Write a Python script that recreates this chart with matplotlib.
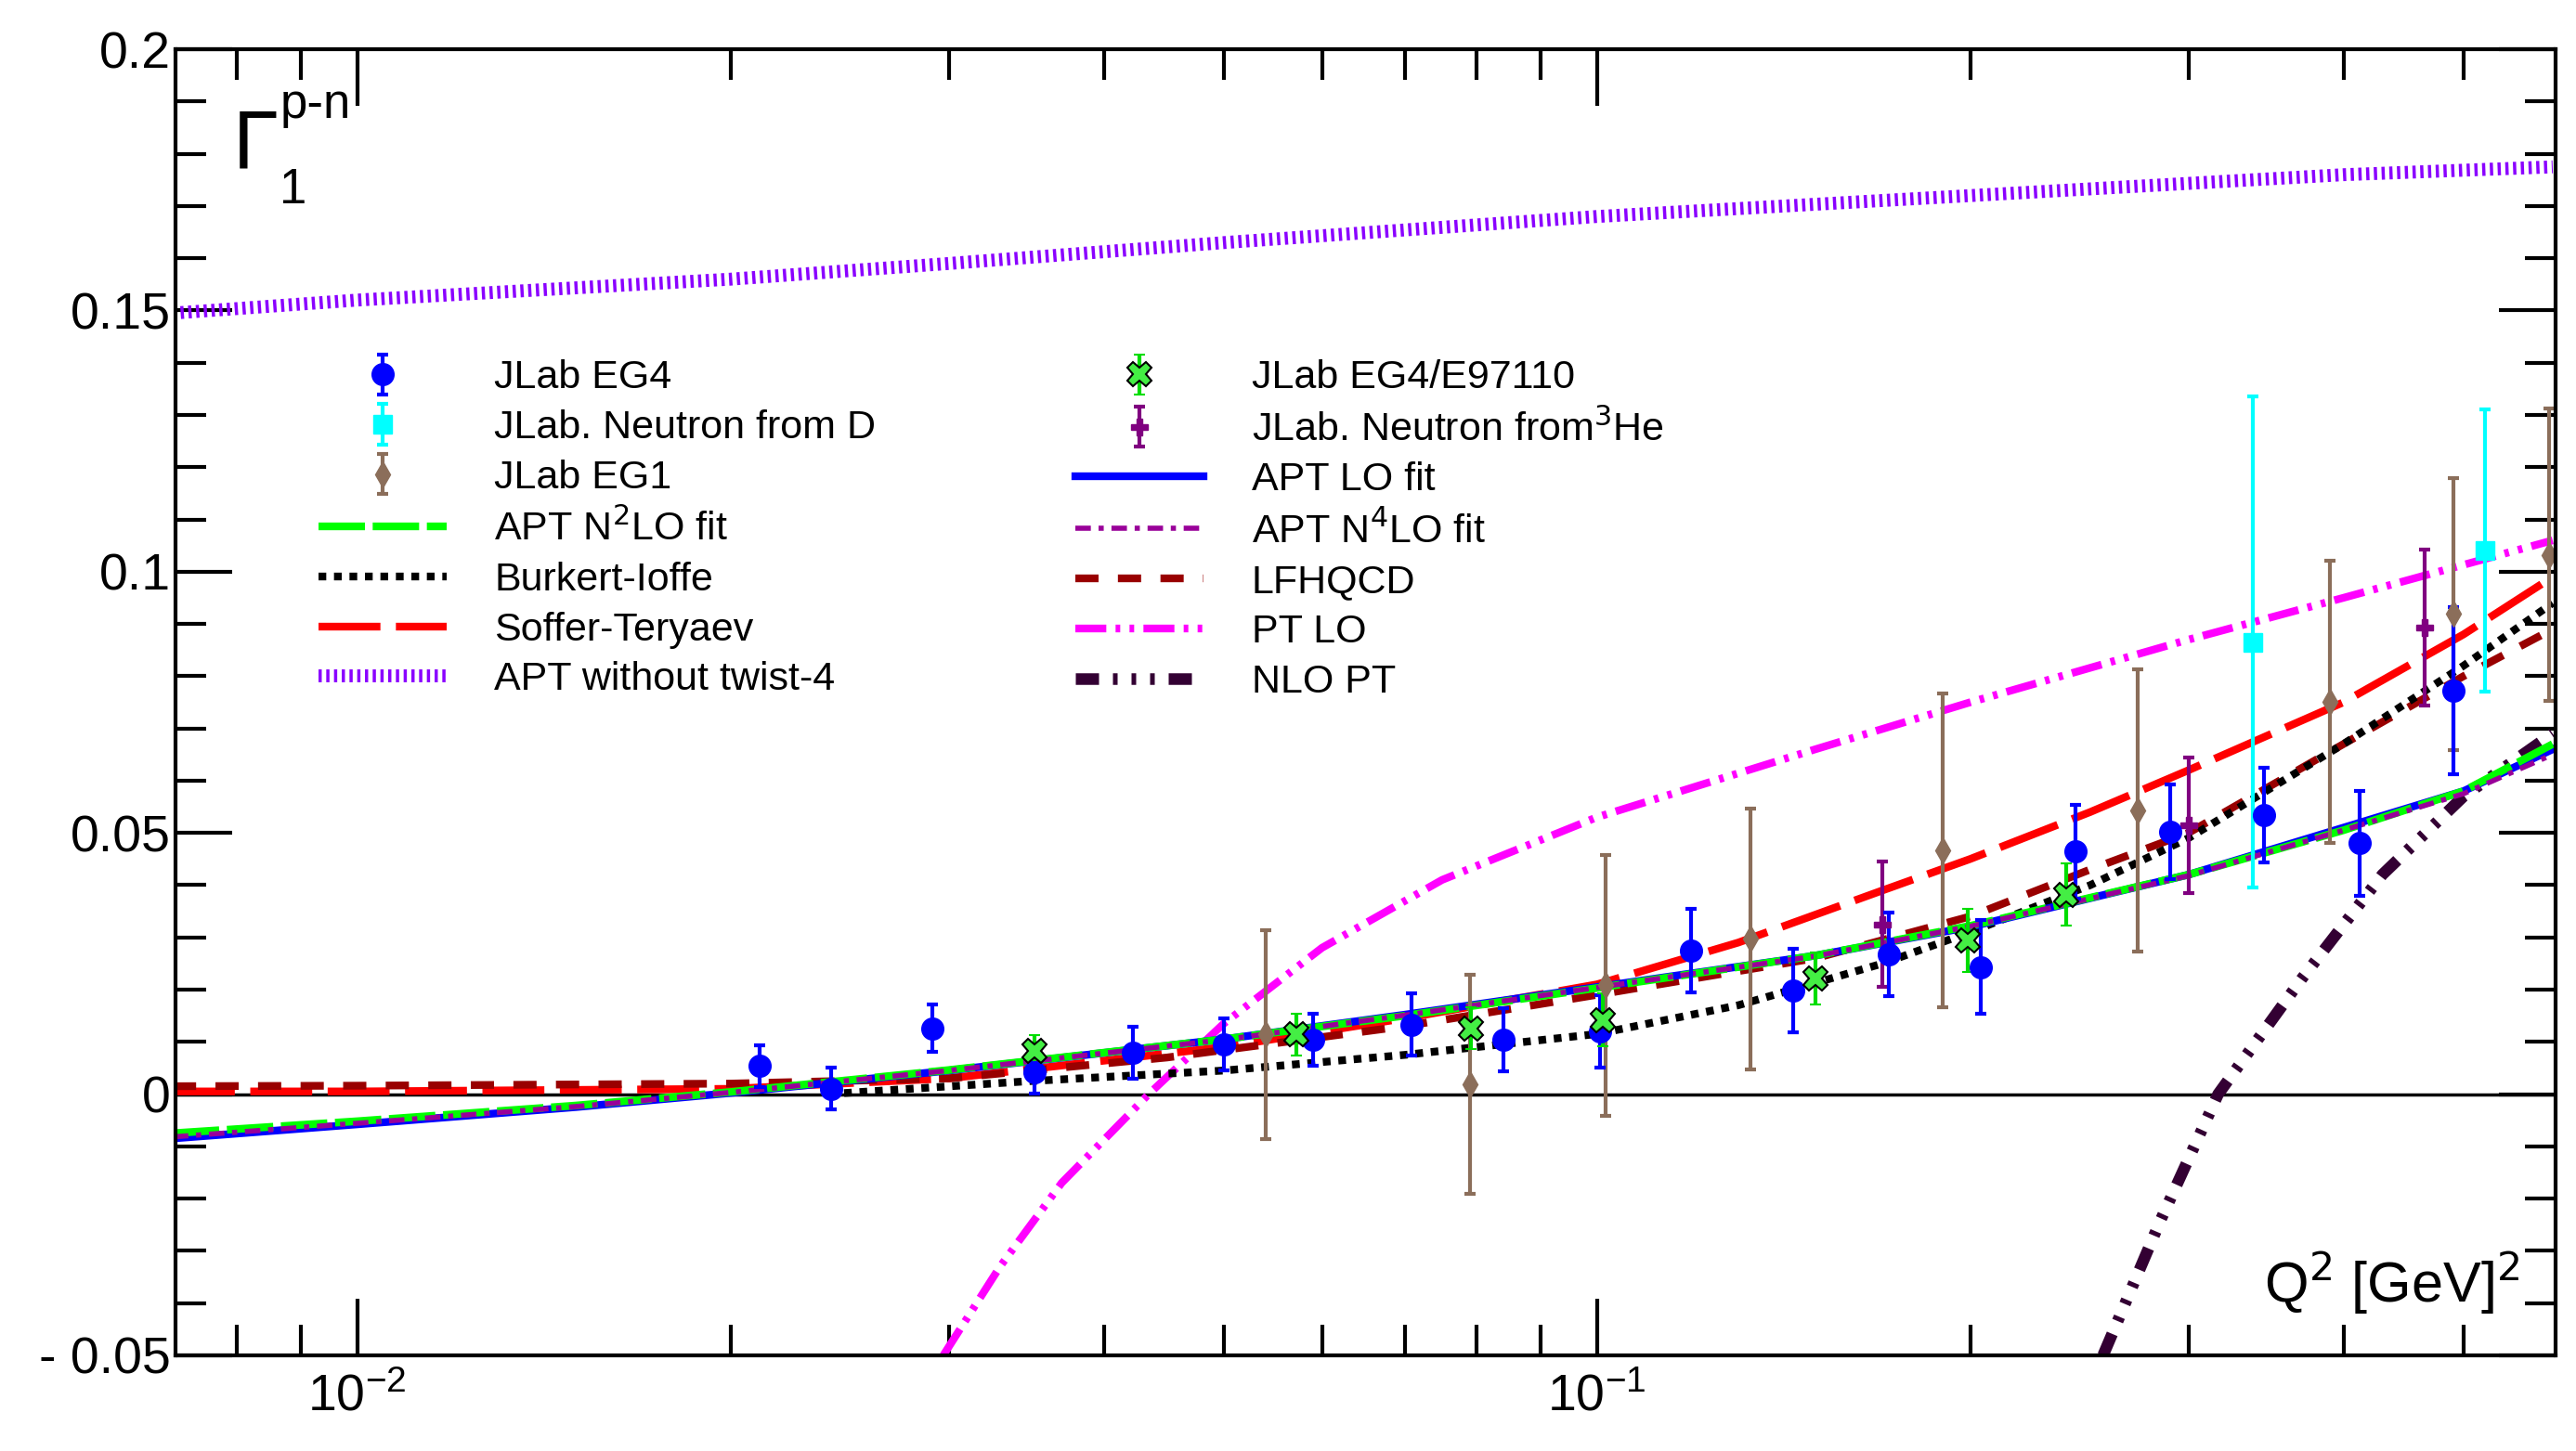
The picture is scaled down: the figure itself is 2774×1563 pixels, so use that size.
import matplotlib.pyplot as plt
from matplotlib.ticker import FixedLocator, LogLocator, NullFormatter

plt.rcParams["font.family"] = "Liberation Sans"

# JLab EG4
eg4_q2 = [0.0211, 0.0241, 0.0291, 0.0352, 0.0422, 0.050, 0.059, 0.0708, 0.084, 0.1005,
          0.119, 0.144, 0.172, 0.204, 0.243, 0.290, 0.345, 0.412, 0.491]
eg4_g = [0.0054, 0.0010, 0.0126, 0.0041, 0.0079, 0.0095, 0.0104, 0.0133, 0.0104, 0.0120,
         0.0275, 0.0199, 0.0268, 0.0243, 0.0464, 0.0502, 0.0534, 0.0480, 0.0773]
eg4_err = [0.004, 0.004, 0.0045, 0.004, 0.005, 0.005, 0.005, 0.006, 0.006, 0.007,
           0.008, 0.008, 0.008, 0.009, 0.009, 0.009, 0.009, 0.010, 0.016]

# JLab EG4/E97110
e97_q2 = [0.0352, 0.0572, 0.0791, 0.101, 0.150, 0.199, 0.239]
e97_g = [0.0082, 0.0114, 0.0126, 0.0142, 0.0221, 0.0294, 0.0382]
e97_err = [0.003, 0.004, 0.004, 0.005, 0.005, 0.006, 0.006]

# JLab neutron from D
nd_q2 = [0.338, 0.520]
nd_g = [0.0865, 0.104]
nd_err = [0.047, 0.027]

# JLab neutron from 3He
nhe_q2 = [0.170, 0.300, 0.465]
nhe_g = [0.0325, 0.0515, 0.0893]
nhe_err = [0.012, 0.013, 0.015]

# JLab EG1
eg1_q2 = [0.054, 0.079, 0.1016, 0.133, 0.190, 0.273, 0.390, 0.491, 0.586]
eg1_g = [0.0114, 0.0019, 0.0208, 0.0297, 0.0467, 0.0543, 0.0751, 0.0919, 0.1032]
eg1_err = [0.020, 0.021, 0.025, 0.025, 0.030, 0.027, 0.027, 0.026, 0.028]

# model curves
fit_q2 = [0.0071, 0.01, 0.015, 0.02, 0.03, 0.05, 0.07, 0.1, 0.15, 0.2, 0.3, 0.4, 0.5, 0.59]
apt_lo = [-0.0085, -0.0058, -0.0025, 0.0002, 0.0045, 0.0105, 0.0152, 0.0205, 0.0265,
          0.032, 0.042, 0.051, 0.058, 0.066]
apt_n2lo = [-0.0075, -0.0052, -0.0022, 0.0004, 0.0046, 0.0105, 0.015, 0.0203, 0.0265,
            0.0322, 0.042, 0.0505, 0.058, 0.067]
apt_n4lo = [-0.0082, -0.0056, -0.0024, 0.0003, 0.0045, 0.0104, 0.0151, 0.0204, 0.0264,
            0.0321, 0.0418, 0.0505, 0.0575, 0.065]

bi_q2 = [0.024, 0.035, 0.05, 0.07, 0.1, 0.13, 0.17, 0.2, 0.25, 0.3, 0.4, 0.5, 0.59]
bi_g = [0.0, 0.0025, 0.0045, 0.0075, 0.0115, 0.017, 0.025, 0.031, 0.040, 0.049, 0.067,
        0.082, 0.094]

st_q2 = [0.0071, 0.01, 0.02, 0.03, 0.05, 0.07, 0.1, 0.13, 0.17, 0.2, 0.25, 0.3, 0.4, 0.5, 0.59]
st_g = [0.0005, 0.0005, 0.001, 0.003, 0.009, 0.0145, 0.021, 0.029, 0.039, 0.045, 0.054,
        0.062, 0.075, 0.088, 0.099]

lf_q2 = [0.0071, 0.01, 0.02, 0.03, 0.045, 0.07, 0.1, 0.15, 0.2, 0.25, 0.3, 0.4, 0.5, 0.59]
lf_g = [0.0015, 0.0016, 0.002, 0.003, 0.007, 0.013, 0.019, 0.026, 0.034, 0.043, 0.050,
        0.067, 0.080, 0.089]

ptlo_q2 = [0.0297, 0.033, 0.037, 0.0435, 0.05, 0.06, 0.075, 0.1, 0.15, 0.2, 0.3, 0.4, 0.59]
ptlo_g = [-0.05, -0.033, -0.017, 0.0, 0.0135, 0.028, 0.041, 0.053, 0.066, 0.075, 0.087,
          0.095, 0.106]

nlo_q2 = [0.256, 0.285, 0.317, 0.37, 0.43, 0.5, 0.59]
nlo_g = [-0.05, -0.024, 0.0, 0.022, 0.042, 0.057, 0.069]

tw_q2 = [0.0071, 0.01, 0.02, 0.03, 0.05, 0.1, 0.2, 0.4, 0.59]
tw_g = [0.1495, 0.152, 0.156, 0.159, 0.163, 0.168, 0.172, 0.176, 0.1775]

ytick_vals = [-0.05, 0, 0.05, 0.1, 0.15, 0.2]
ytick_labels = ["- 0.05", "0", "0.05", "0.1", "0.15", "0.2"]

fig = plt.figure(figsize=(27.74, 15.63), dpi=100)
ax = fig.add_axes([0.068, 0.066, 0.924, 0.9])

ax.axhline(0, color="black", lw=2.5, zorder=1)

lw = 6
h_tw, = ax.plot(tw_q2, tw_g, color="#8a00ff", lw=10, ls=(0, (0.25, 0.35)), label="APT without twist-4")
h_pt, = ax.plot(ptlo_q2, ptlo_g, color="#ff00ff", lw=lw, ls=(0, (4, 1.2, 0.6, 1.2, 0.6, 1.2)), label="PT LO")
h_nlo, = ax.plot(nlo_q2, nlo_g, color="#330033", lw=9, ls=(0, (2, 1.2, 0.4, 1.2, 0.4, 1.2, 0.4, 1.2)), label="NLO PT")
h_st, = ax.plot(st_q2, st_g, color="#ff0000", lw=lw, ls=(0, (8, 2)), label="Soffer-Teryaev")
h_lf, = ax.plot(lf_q2, lf_g, color="#990000", lw=lw, ls=(0, (3, 2.5)), label="LFHQCD")
h_bi, = ax.plot(bi_q2, bi_g, color="black", lw=lw, ls=(0, (1, 1)), label="Burkert-Ioffe")
h_lo, = ax.plot(fit_q2, apt_lo, color="#0000ff", lw=lw, label="APT LO fit")
h_n2, = ax.plot(fit_q2, apt_n2lo, color="#00ff00", lw=lw, ls=(0, (6, 1)), label="APT N$^2$LO fit")
h_n4, = ax.plot(fit_q2, apt_n4lo, color="#990099", lw=4, ls=(0, (3, 1.5, 1, 1.5)), label="APT N$^4$LO fit")

eb = dict(lw=3, capsize=4, capthick=3, ls="none")
h_eg1 = ax.errorbar(eg1_q2, eg1_g, yerr=eg1_err, color="#8b6e5a", marker="d", ms=14, label="JLab EG1", **eb)
h_nhe = ax.errorbar(nhe_q2, nhe_g, yerr=nhe_err, color="#800080", marker="P", ms=13, label="JLab. Neutron from$^3$He", **eb)
h_nd = ax.errorbar(nd_q2, nd_g, yerr=nd_err, color="#00ffff", marker="s", ms=15, label="JLab. Neutron from D", **eb)
h_eg4 = ax.errorbar(eg4_q2, eg4_g, yerr=eg4_err, color="#0000ff", marker="o", ms=17, label="JLab EG4", **eb)
h_e97 = ax.errorbar(e97_q2, e97_g, yerr=e97_err, color="#00dd00", marker="X", ms=19,
                    mfc="#44ee44", mec="black", mew=1.5, label="JLab EG4/E97110", **eb)

ax.set_xscale("log")
ax.set_xlim(0.00713, 0.593)
ax.set_ylim(-0.05, 0.2)
ax.yaxis.set_major_locator(FixedLocator(ytick_vals))
ax.set_yticklabels(ytick_labels)
ax.yaxis.set_minor_locator(FixedLocator([-0.05 + 0.01 * i for i in range(26)]))
ax.xaxis.set_major_locator(LogLocator(base=10, numticks=10))
ax.xaxis.set_minor_locator(LogLocator(base=10, subs=range(2, 10), numticks=20))
ax.xaxis.set_minor_formatter(NullFormatter())
ax.tick_params(which="both", direction="in", top=True, right=True, width=3, labelsize=40)
ax.tick_params(which="major", length=44)
ax.tick_params(which="minor", length=24)
ax.tick_params(axis="x", pad=14)
for s in ax.spines.values():
    s.set_linewidth(3)

ax.text(0.024, 0.955, r"$\mathregular{\Gamma}$", transform=ax.transAxes, fontsize=64, va="top")
ax.text(0.044, 0.975, "p-n", transform=ax.transAxes, fontsize=38, va="top")
ax.text(0.044, 0.91, "1", transform=ax.transAxes, fontsize=38, va="top")
ax.text(0.985, 0.03, r"Q$^2$ [GeV]$^2$", transform=ax.transAxes, fontsize=44, ha="right", va="bottom")

handles = [h_eg4, h_nd, h_eg1, h_n2, h_bi, h_st, h_tw,
           h_e97, h_nhe, h_lo, h_n4, h_lf, h_pt, h_nlo]
ax.legend(handles=handles, ncol=2, loc="upper left", bbox_to_anchor=(0.045, 0.79),
          frameon=False, fontsize=31, handlelength=3.2, labelspacing=0.32,
          columnspacing=5.0, handletextpad=1.2)

fig.savefig("out.png", dpi=100)
